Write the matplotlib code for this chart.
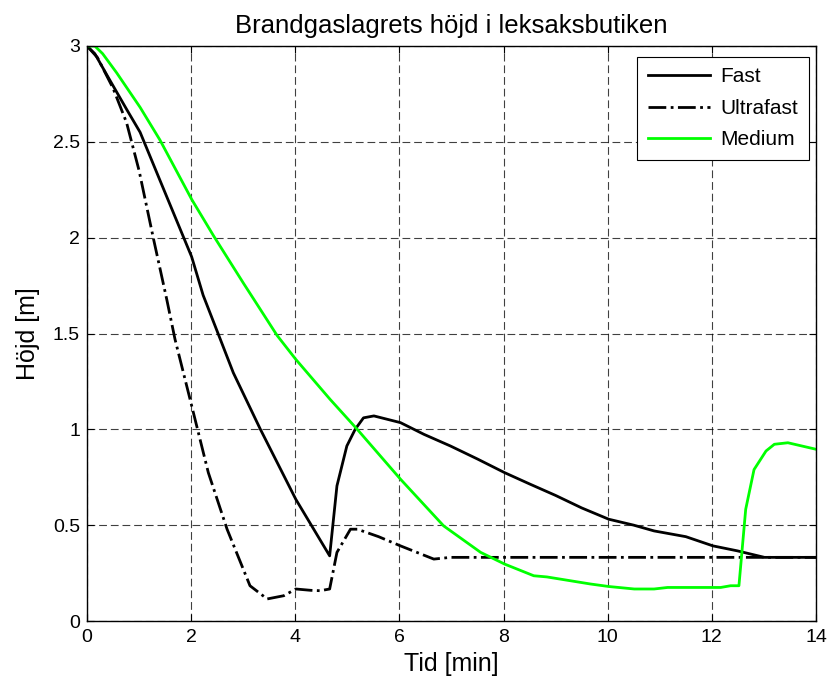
import numpy as np
import matplotlib
matplotlib.use("Agg")
import matplotlib.pyplot as plt

plt.rcParams['font.family'] = ['Liberation Sans', 'DejaVu Sans']

# Fast
t_fast = [0, 0.15, 0.4, 0.76, 1.02, 1.4, 2.01, 2.23, 2.56, 2.81, 3.33, 4.01, 4.66,
          4.80, 4.99, 5.15, 5.31, 5.51, 6.02, 6.47, 6.98, 7.5, 8.02, 8.5, 9.0, 9.5,
          10.02, 10.5, 10.89, 11.5, 12.02, 12.49, 13.01, 13.5, 14.0]
h_fast = [3.0, 2.96, 2.84, 2.67, 2.55, 2.3, 1.90, 1.70, 1.47, 1.295, 1.0, 0.635, 0.34,
          0.705, 0.913, 1.0, 1.06, 1.07, 1.035, 0.974, 0.913, 0.845, 0.774, 0.715,
          0.655, 0.59, 0.531, 0.5, 0.47, 0.44, 0.392, 0.366, 0.332, 0.332, 0.332]

# Ultrafast
t_ultra = [0, 0.2, 0.5, 0.76, 1.0, 1.28, 1.53, 1.69, 1.98, 2.33, 2.69, 3.13, 3.46,
           3.78, 4.01, 4.3, 4.48, 4.66, 4.80, 5.06, 5.19, 5.6, 6.02, 6.66, 6.98, 8.0,
           10.0, 12.0, 14.0]
h_ultra = [3.0, 2.94, 2.78, 2.60, 2.35, 1.99, 1.68, 1.47, 1.156, 0.774, 0.479, 0.184,
           0.115, 0.132, 0.167, 0.16, 0.158, 0.167, 0.358, 0.479, 0.479, 0.44, 0.392,
           0.323, 0.332, 0.332, 0.332, 0.332, 0.332]

# Medium
t_med = [0, 0.15, 0.3, 0.57, 1.02, 1.4, 2.01, 2.43, 3.01, 3.20, 3.65, 4.01, 4.67,
         5.19, 6.02, 6.85, 7.56, 8.02, 8.58, 8.83, 9.67, 10.02, 10.51, 10.89, 11.15,
         12.17, 12.36, 12.52, 12.65, 12.81, 13.04, 13.2, 13.46, 14.0]
h_med = [3.0, 3.0, 2.96, 2.86, 2.68, 2.51, 2.20, 2.01, 1.76, 1.68, 1.49, 1.365, 1.156,
         1.0, 0.74, 0.496, 0.358, 0.297, 0.236, 0.23, 0.193, 0.18, 0.167, 0.167, 0.175,
         0.175, 0.184, 0.184, 0.583, 0.79, 0.887, 0.922, 0.93, 0.896]

fig = plt.figure(figsize=(8.31, 6.9), dpi=100)
ax = fig.add_axes([87 / 831, 1 - 621 / 690, 729 / 831, 575 / 690])

ax.plot(t_fast, h_fast, color='black', linewidth=2, label='Fast')
ax.plot(t_ultra, h_ultra, color='black', linewidth=2, linestyle='-.', label='Ultrafast')
ax.plot(t_med, h_med, color='#00ff00', linewidth=2, label='Medium')

ax.set_xlim(0, 14)
ax.set_ylim(0, 3)
ax.set_xticks(np.arange(0, 15, 2))
ax.set_yticks(np.arange(0, 3.01, 0.5))
ax.set_yticklabels(['0', '0.5', '1', '1.5', '2', '2.5', '3'])
ax.grid(True, color='black', linestyle=(0, (7, 3.5)), linewidth=0.8, alpha=0.75)
ax.tick_params(direction='in', top=True, right=True, labelsize=14, length=5)
ax.tick_params(axis='x', pad=6)
ax.tick_params(axis='y', pad=5)
for s in ax.spines.values():
    s.set_linewidth(1)

ax.set_title('Brandgaslagrets höjd i leksaksbutiken', fontsize=18.5, pad=9)
ax.set_xlabel('Tid [min]', fontsize=18, labelpad=4)
ax.set_ylabel('Höjd [m]', fontsize=18, labelpad=9)

leg = ax.legend(loc='upper right', bbox_to_anchor=(0.990, 0.981), borderaxespad=0,
                fontsize=15, fancybox=False, edgecolor='black', framealpha=1,
                handlelength=3.0, handletextpad=0.5, labelspacing=0.6, borderpad=0.5)
leg.get_frame().set_linewidth(0.8)

fig.savefig('out.png', dpi=100)
